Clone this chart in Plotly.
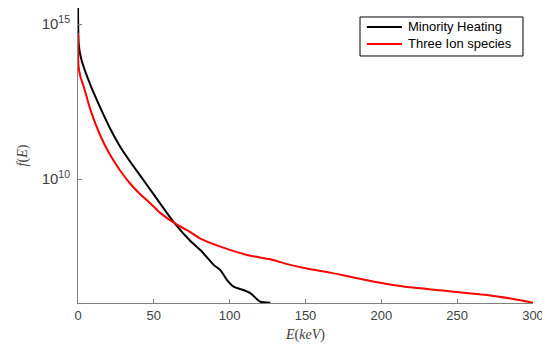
import plotly.graph_objects as go

# Minority Heating
e_minority = [0, 0.53, 2.31, 8.23, 14.82, 21.41, 28.0, 34.58, 41.17, 52.17, 63.11,
              74.11, 80.7, 89.46, 93.87, 98.29, 102.6, 109.0, 113.6, 120.2, 126.8]
f_minority = [3.98e15, 2.09e14, 6.92e13, 1.07e13, 1.95e12, 4.07e11, 1.07e11, 3.55e10,
              1.26e10, 2.24e9, 4.07e8, 1.0e8, 5.13e7, 1.70e7, 1.15e7, 5.50e6, 3.39e6,
              2.63e6, 2.09e6, 1.10e6, 1.02e6]

# Three Ion species
e_three = [0, 0.3, 1.65, 3.8, 8.2, 14.8, 21.4, 28.0, 34.6, 41.2, 47.8, 54.4, 64.2,
           74.1, 80.7, 93.9, 111.5, 126.8, 140.0, 153.2, 166.4, 181.7, 199.3, 214.6,
           238.8, 254.2, 269.6, 287.1, 300.0]
f_three = [5.13e14, 4.79e13, 1.95e13, 9.55e12, 1.70e12, 2.45e11, 5.75e10, 1.82e10,
           6.92e9, 3.16e9, 1.62e9, 7.94e8, 3.63e8, 1.95e8, 1.20e8, 6.61e7, 3.55e7,
           2.57e7, 1.70e7, 1.23e7, 9.55e6, 6.61e6, 4.47e6, 3.39e6, 2.57e6, 2.14e6,
           1.82e6, 1.35e6, 1.02e6]

series_names = ["Minority Heating", "Three Ion species"]
series_colors = ["#000000", "#ff0000"]

x_ticks = [0, 50, 100, 150, 200, 250, 300]
y_ticks = [1e10, 1e15]
y_tick_text = ["10<sup>10</sup>", "10<sup>15</sup>"]

fig = go.Figure()
for xs, ys, nm, col in [(e_minority, f_minority, series_names[0], series_colors[0]),
                        (e_three, f_three, series_names[1], series_colors[1])]:
    fig.add_trace(go.Scatter(x=xs, y=ys, mode="lines", name=nm, showlegend=False,
                             line=dict(color=col, width=2, shape="spline", smoothing=0.6)))

# legend drawn as a box with line samples (paper coordinates)
shapes = [dict(type="rect", xref="paper", yref="paper", x0=0.6198, x1=0.978,
               y0=0.8373, y1=0.9695, line=dict(color="#000000", width=1),
               fillcolor="white", layer="above")]
annotations = []
leg_y = [0.9356, 0.878]
for i, (nm, col) in enumerate(zip(series_names, series_colors)):
    shapes.append(dict(type="line", xref="paper", yref="paper", x0=0.635, x1=0.712,
                       y0=leg_y[i], y1=leg_y[i], line=dict(color=col, width=2),
                       layer="above"))
    annotations.append(dict(text=nm, xref="paper", yref="paper", x=0.7209, y=leg_y[i],
                            xanchor="left", yanchor="middle", showarrow=False,
                            font=dict(size=13, color="#000000")))

axis_col = "#808080"
fig.update_layout(
    width=542, height=338,
    margin=dict(l=70, r=17, t=0, b=43, pad=0),
    paper_bgcolor="white", plot_bgcolor="white",
    font=dict(family="Liberation Sans, Arial, sans-serif", size=13, color="#404040"),
    shapes=shapes, annotations=annotations,
    xaxis=dict(range=[0, 300], tickvals=x_ticks, ticks="inside", ticklen=4,
               tickcolor=axis_col, showline=True, linecolor=axis_col, linewidth=1,
               showgrid=False, zeroline=False, mirror=False,
               tickfont=dict(size=13),
               title=dict(text="<i>E</i>(<i>keV</i>)", standoff=7,
                          font=dict(family="Liberation Serif, serif", size=14, color="#404040"))),
    yaxis=dict(type="log", range=[6, 15.52], tickvals=y_ticks, ticktext=y_tick_text,
               ticks="inside", ticklen=4, tickcolor=axis_col, showline=True,
               linecolor=axis_col, linewidth=1, showgrid=False, zeroline=False,
               mirror=False, tickfont=dict(size=15), ticklabelstandoff=4,
               title=dict(text="<i>f</i>(<i>E</i>)", standoff=10,
                          font=dict(family="Liberation Serif, serif", size=14, color="#404040"))),
)

fig.write_html("out.html")
